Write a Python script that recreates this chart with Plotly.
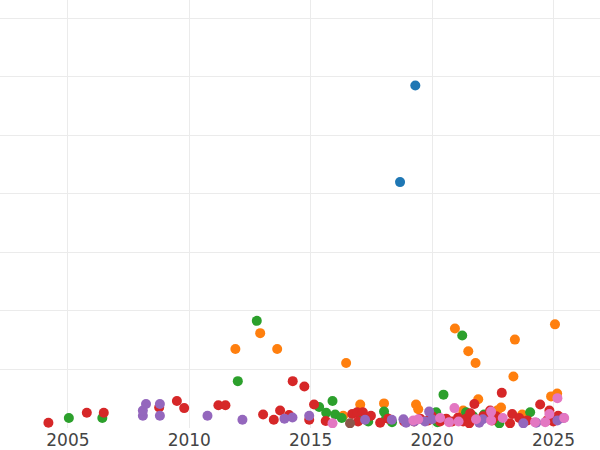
import pandas as pd
import plotly.graph_objects as go

# Decimal years and values (y units: one gridline = 100)
blue_x = [2019.31, 2018.68]
blue_y = [585, 420]

orange_x = [2011.90, 2012.92, 2013.62, 2016.46, 2020.94, 2021.49, 2021.79, 2023.41, 2025.06, 2023.35,
            2017.04, 2018.02, 2019.34, 2019.43, 2021.90, 2022.84, 2023.71, 2024.90, 2025.15, 2016.34,
            2021.28, 2022.68]
orange_y = [135, 162, 135, 111, 170, 131, 111, 151, 177, 88,
            40, 42, 40, 32, 49, 35, 23, 54, 59, 21,
            30, 30]

green_x = [2005.04, 2006.42, 2012.00, 2012.78, 2021.24, 2020.47, 2015.90, 2015.35, 2015.64, 2016.01,
           2016.28, 2018.02, 2018.11, 2018.35, 2020.17, 2020.22, 2021.40, 2021.69, 2022.77, 2024.04,
           2022.14, 2022.39, 2017.08, 2017.37]
green_y = [17, 17, 80, 183, 158, 57, 46, 36, 26, 23,
           17, 28, 18, 10, 27, 10, 27, 20, 8, 27,
           23, 20, 15, 11]

red_x = [2004.20, 2005.78, 2006.48, 2008.76, 2009.49, 2009.79, 2011.20, 2011.49, 2013.04, 2013.48,
         2013.74, 2014.11, 2014.26, 2014.74, 2014.94, 2015.14, 2015.62, 2016.71, 2016.91, 2017.15,
         2016.95, 2017.48, 2017.86, 2018.19, 2018.85, 2019.26, 2019.51, 2019.84, 2020.00, 2020.33,
         2020.58, 2020.83, 2021.07, 2021.28, 2021.40, 2021.57, 2021.74, 2021.90, 2022.10, 2022.39,
         2022.87, 2023.21, 2023.30, 2023.59, 2023.92, 2024.45, 2024.74, 2024.83, 2025.19, 2024.99,
         2022.47, 2022.64, 2021.53]
red_y = [9, 26, 26, 35, 46, 34, 39, 39, 23, 14,
         30, 22, 80, 71, 14, 40, 12, 24, 27, 27,
         11, 21, 9, 16, 11, 11, 16, 13, 20, 11,
         16, 11, 18, 11, 16, 25, 41, 13, 20, 30,
         60, 8, 24, 17, 13, 40, 13, 30, 21, 11,
         13, 20, 8]

purple_x = [2008.09, 2008.09, 2008.22, 2008.79, 2008.79, 2010.75, 2012.19, 2013.92, 2014.25, 2014.94,
            2017.24, 2018.34, 2018.82, 2018.93, 2019.26, 2019.71, 2019.88, 2021.94, 2022.09, 2023.76,
            2024.29, 2025.16, 2025.41, 2020.00]
purple_y = [21, 30, 41, 41, 21, 21, 14, 16, 18, 21,
            14, 14, 15, 9, 11, 11, 28, 9, 15, 8,
            9, 13, 17, 15]

brown_x = [2016.62]
brown_y = [8]

pink_x = [2015.90, 2019.23, 2019.43, 2020.33, 2020.92, 2020.70, 2021.09, 2021.81, 2022.43, 2022.43,
          2022.91, 2024.24, 2024.66, 2024.83, 2025.16, 2025.44]
pink_y = [8, 13, 15, 17, 34, 10, 11, 15, 28, 13,
          17, 10, 10, 24, 51, 17]


def to_dates(years):
    out = []
    for y in years:
        yr = int(y)
        start = pd.Timestamp(year=yr, month=1, day=1)
        end = pd.Timestamp(year=yr + 1, month=1, day=1)
        out.append(start + (end - start) * (y - yr))
    return out


series = [
    (blue_x, blue_y, "#1f77b4"),
    (orange_x, orange_y, "#ff7f0e"),
    (green_x, green_y, "#2ca02c"),
    (red_x, red_y, "#d62728"),
    (purple_x, purple_y, "#9467bd"),
    (brown_x, brown_y, "#8c564b"),
    (pink_x, pink_y, "#e377c2"),
]

fig = go.Figure()
for xs, ys, c in series:
    fig.add_trace(go.Scatter(x=to_dates(xs), y=ys, mode="markers",
                             marker=dict(size=10, color=c, line=dict(width=0)),
                             showlegend=False))

fig.update_layout(
    width=600, height=450,
    margin=dict(l=0, r=0, t=0, b=22),
    paper_bgcolor="white", plot_bgcolor="white",
    font=dict(family="DejaVu Sans", size=17, color="#444"),
    xaxis=dict(type="date", range=[pd.Timestamp("2002-03-17"), pd.Timestamp("2026-12-01")],
               dtick="M60", tick0="2005-01-01", tickformat="%Y",
               showgrid=True, gridcolor="#ebebeb", gridwidth=1,
               zeroline=False, showline=False, ticks=""),
    yaxis=dict(range=[0, 731], dtick=100, showticklabels=False,
               showgrid=True, gridcolor="#ebebeb", gridwidth=1,
               zeroline=False, showline=False, ticks=""),
)

fig.write_html("out.html", config={"displayModeBar": False},
               post_script="document.body.style.margin='0px';document.body.style.overflow='hidden';")
